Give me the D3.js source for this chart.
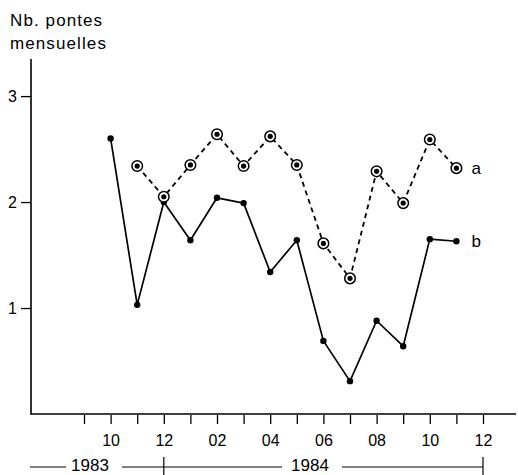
<!DOCTYPE html>
<html>
<head>
<meta charset="utf-8">
<script src="https://cdn.jsdelivr.net/npm/d3@7"></script>
<style>
  html, body { margin: 0; padding: 0; background: #fff; }
  svg { display: block; font-family: "Liberation Sans", Arial, sans-serif; }
</style>
</head>
<body>
<svg id="chart" width="518" height="475"></svg>
<script>
// Month positions on the time axis (Sept 1983 .. Dec 1984)
const months = ["09/83","10/83","11/83","12/83","01/84","02/84","03/84","04/84",
                "05/84","06/84","07/84","08/84","09/84","10/84","11/84","12/84"];
// Tick labels shown under the axis (every second month)
const monthLabels = {"10/83":"10","12/83":"12","02/84":"02","04/84":"04",
                     "06/84":"06","08/84":"08","10/84":"10","12/84":"12"};
const yTicks = [1, 2, 3];

// Series a: dashed line with ringed points
const monthsA = ["11/83","12/83","01/84","02/84","03/84","04/84","05/84",
                 "06/84","07/84","08/84","09/84","10/84","11/84"];
const valuesA = [2.34, 2.05, 2.35, 2.64, 2.34, 2.62, 2.35, 1.61, 1.28, 2.29, 1.99, 2.59, 2.32];

// Series b: solid line with dots
const monthsB = ["10/83","11/83","12/83","01/84","02/84","03/84","04/84",
                 "05/84","06/84","07/84","08/84","09/84","10/84","11/84"];
const valuesB = [2.60, 1.03, 2.00, 1.64, 2.04, 1.99, 1.34, 1.64, 0.69, 0.31, 0.88, 0.64, 1.65, 1.63];

// Year spans along the bottom
const years = [
  {label: "1983", from: null, to: "12/83"},
  {label: "1984", from: "12/83", to: "12/84"}
];

const svg = d3.select("#chart");
const axisX0 = 31, axisX1 = 516, axisYTop = 59, axisYBottom = 414;

const x = d3.scalePoint().domain(months).range([84, 483]);
const y = d3.scaleLinear().domain([0, 3.35]).range([axisYBottom, axisYTop]);

// Axis title
const title = svg.append("text")
  .attr("x", 10).attr("font-size", 17).attr("letter-spacing", 1.1).attr("fill", "#000");
title.append("tspan").attr("x", 10).attr("y", 26).text("Nb. pontes");
title.append("tspan").attr("x", 10).attr("y", 49).text("mensuelles");

// Axis lines
svg.append("line")
  .attr("x1", axisX0).attr("x2", axisX0).attr("y1", axisYTop).attr("y2", axisYBottom + 0.75)
  .attr("stroke", "#000").attr("stroke-width", 1.6);
svg.append("line")
  .attr("x1", axisX0).attr("x2", axisX1).attr("y1", axisYBottom).attr("y2", axisYBottom)
  .attr("stroke", "#000").attr("stroke-width", 1.6);

// Y axis ticks
const yAxis = d3.axisLeft(y).tickValues(yTicks).tickSize(10).tickPadding(4).tickFormat(d3.format("d"));
const gy = svg.append("g").attr("transform", `translate(${axisX0},0)`).call(yAxis);
gy.select(".domain").remove();
gy.selectAll(".tick line").attr("stroke", "#000").attr("stroke-width", 1.3);
gy.selectAll(".tick text").attr("font-size", 16).attr("fill", "#000")
  .attr("font-family", "Liberation Sans, Arial, sans-serif");

// X axis ticks
const xAxis = d3.axisBottom(x).tickSize(9).tickPadding(11)
  .tickFormat(d => monthLabels[d] || "");
const gx = svg.append("g").attr("transform", `translate(0,${axisYBottom + 1})`).call(xAxis);
gx.select(".domain").remove();
gx.selectAll(".tick line").attr("stroke", "#000").attr("stroke-width", 1.3);
gx.selectAll(".tick text").attr("font-size", 16).attr("fill", "#000")
  .attr("font-family", "Liberation Sans, Arial, sans-serif");

// Year bracket along the bottom
const yearY = 467;
const yearG = svg.append("g").attr("stroke", "#000").attr("stroke-width", 1.2);
yearG.append("line").attr("x1", 30).attr("x2", 66).attr("y1", yearY).attr("y2", yearY);
yearG.append("line").attr("x1", 122).attr("x2", x("12/83")).attr("y1", yearY).attr("y2", yearY);
yearG.append("line").attr("x1", x("12/83")).attr("x2", 282).attr("y1", yearY).attr("y2", yearY);
yearG.append("line").attr("x1", 342).attr("x2", x("12/84")).attr("y1", yearY).attr("y2", yearY);
[ "12/83", "12/84" ].forEach(m => {
  yearG.append("line").attr("x1", x(m)).attr("x2", x(m)).attr("y1", 457).attr("y2", 475);
});
svg.append("text").attr("x", 90).attr("y", 471).attr("text-anchor", "middle")
  .attr("font-size", 17).attr("fill", "#000").text(years[0].label);
svg.append("text").attr("x", 310).attr("y", 471).attr("text-anchor", "middle")
  .attr("font-size", 17).attr("fill", "#000").text(years[1].label);

// Series lines
const dataA = monthsA.map((m, i) => ({m, v: valuesA[i]}));
const dataB = monthsB.map((m, i) => ({m, v: valuesB[i]}));
const line = d3.line().x(d => x(d.m)).y(d => y(d.v));

svg.append("path").datum(dataB).attr("d", line)
  .attr("fill", "none").attr("stroke", "#000").attr("stroke-width", 1.7)
  .attr("stroke-linejoin", "round");
svg.append("path").datum(dataA).attr("d", line)
  .attr("fill", "none").attr("stroke", "#000").attr("stroke-width", 1.8)
  .attr("stroke-dasharray", "5,4");

// Series b dots
svg.selectAll(".dotB").data(dataB).enter().append("circle")
  .attr("cx", d => x(d.m)).attr("cy", d => y(d.v)).attr("r", 3.2).attr("fill", "#000");

// Series a ringed dots
const ringG = svg.selectAll(".ringA").data(dataA).enter().append("g");
ringG.append("circle")
  .attr("cx", d => x(d.m)).attr("cy", d => y(d.v)).attr("r", 5.3)
  .attr("fill", "#fff").attr("stroke", "#000").attr("stroke-width", 1.5);
ringG.append("circle")
  .attr("cx", d => x(d.m)).attr("cy", d => y(d.v)).attr("r", 2.6).attr("fill", "#000");

// Series labels
const lastA = dataA[dataA.length - 1], lastB = dataB[dataB.length - 1];
svg.append("text").attr("x", x(lastA.m) + 15).attr("y", y(lastA.v) + 6)
  .attr("font-size", 17).attr("fill", "#000").text("a");
svg.append("text").attr("x", x(lastB.m) + 15).attr("y", y(lastB.v) + 6)
  .attr("font-size", 17).attr("fill", "#000").text("b");
</script>
</body>
</html>
